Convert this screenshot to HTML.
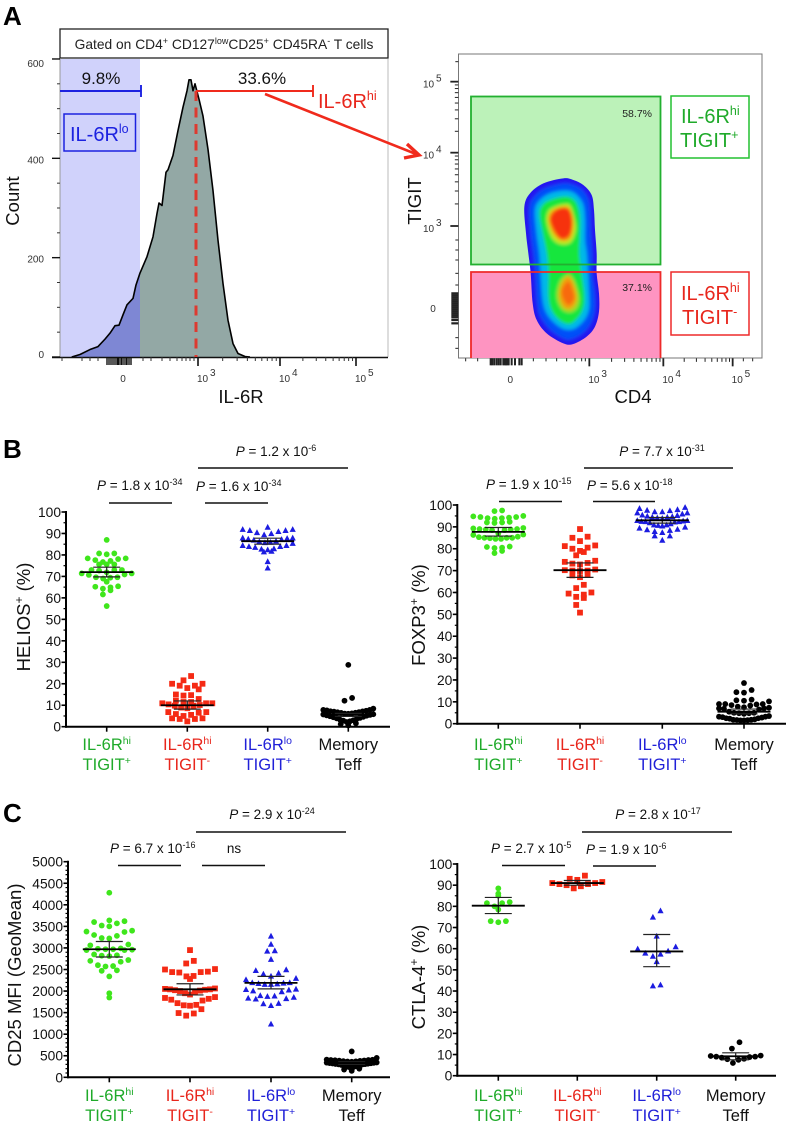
<!DOCTYPE html>
<html lang="en">
<head>
<meta charset="utf-8">
<title>IL-6R and TIGIT flow cytometry figure</title>
<style>
html,body{margin:0;padding:0;background:#fff;}
svg{display:block;font-family:"Liberation Sans",Arial,sans-serif;}
.flowlab{font-size:10px;fill:#333;}
.pv{font-size:13.5px;fill:#111;}
.ttl{font-size:18.5px;fill:#111;}
.letter{font-size:26px;font-weight:bold;fill:#000;}
</style>
</head>
<body>
<svg id="figure" xmlns="http://www.w3.org/2000/svg" width="789" height="1127" viewBox="0 0 789 1127">
<defs>
<clipPath id="clipLo"><rect x="60" y="59" width="80" height="298"/></clipPath>
<clipPath id="clipHi"><rect x="140" y="59" width="248" height="298"/></clipPath>
<filter id="soft" x="-10%" y="-10%" width="120%" height="120%"><feGaussianBlur stdDeviation="1.7"/></filter>
<clipPath id="clipBlob"><path id="clipBlobPath" d=""/></clipPath>
</defs>
<rect width="789" height="1127" fill="#fff"/>

<text class="letter" x="3" y="25">A</text>
<text class="letter" x="3" y="458">B</text>
<text class="letter" x="3" y="822">C</text>

<g id="histogram">
<rect x="60" y="59" width="80" height="298" fill="#d0d2fb"/>
<rect x="60" y="29" width="328" height="29" fill="#fff" stroke="#222" stroke-width="1.3"/>
<text x="224" y="49" text-anchor="middle" font-size="13.8" fill="#222">Gated on CD4<tspan dy="-5" font-size="9">+</tspan><tspan dy="5"> CD127</tspan><tspan dy="-5" font-size="9">low</tspan><tspan dy="5">CD25</tspan><tspan dy="-5" font-size="9">+</tspan><tspan dy="5"> CD45RA</tspan><tspan dy="-5" font-size="9">-</tspan><tspan dy="5"> T cells</tspan></text>
<g id="histMarks"></g>
<line x1="388" y1="59" x2="388" y2="357" stroke="#bbb" stroke-width="1"/>
<line x1="60" y1="59" x2="60" y2="357" stroke="#999" stroke-width="1"/>
<line x1="52" y1="357.5" x2="388" y2="357.5" stroke="#111" stroke-width="1.4"/>
<g id="histTicks"></g>
<line x1="196" y1="91" x2="196" y2="357" stroke="#dd3a30" stroke-width="3" stroke-dasharray="10 6.500"/>
<path d="M60 91H141M141 85V97" fill="none" stroke="#1c22e0" stroke-width="1.9"/>
<path d="M196 91H313M313 85V97" fill="none" stroke="#f02a1c" stroke-width="1.9"/>
<text x="101" y="84" text-anchor="middle" font-size="17" fill="#111">9.8%</text>
<text x="262" y="84" text-anchor="middle" font-size="17" fill="#111">33.6%</text>
<text x="318" y="108" font-size="20" fill="#e8261c">IL-6R<tspan dy="-8" font-size="12.5">hi</tspan></text>
<rect x="64" y="114" width="71.5" height="37" fill="none" stroke="#1c22e0" stroke-width="1.5"/>
<text x="70" y="141" font-size="20" fill="#1c22e0">IL-6R<tspan dy="-8" font-size="12.5">lo</tspan></text>
<text x="19" y="201" class="ttl" text-anchor="middle" transform="rotate(-90 19 201)">Count</text>
<text x="241" y="403" class="ttl" text-anchor="middle">IL-6R</text>
</g>

<g id="arrow">
<line x1="265" y1="94" x2="416" y2="154" stroke="#f02a1c" stroke-width="2.6"/>
<polyline points="407,144 419,155 404,158" fill="none" stroke="#f02a1c" stroke-width="3.4"/>
</g>

<g id="density">
<rect x="458.5" y="54" width="303.5" height="304" fill="#fff" stroke="#777" stroke-width="1"/>
<rect x="471" y="96" width="189.5" height="168" fill="#bcf2b9"/>
<rect x="471" y="272" width="189.5" height="86" fill="#fe94c1"/>
<g id="blob" clip-path="url(#clipBlob)"></g>
<rect x="471" y="96.500" width="189.5" height="168" fill="none" stroke="#22b030" stroke-width="1.8"/>
<path d="M471 358V272H660.500V358" fill="none" stroke="#ee2a2a" stroke-width="1.8"/>
<text x="652" y="117" text-anchor="end" font-size="10.5" fill="#222">58.7%</text>
<text x="652" y="291" text-anchor="end" font-size="10.5" fill="#222">37.1%</text>
<rect x="671" y="96" width="78" height="62" fill="#fff" stroke="#22c030" stroke-width="1.5"/>
<text x="681" y="123" font-size="20" fill="#1faa2a">IL-6R<tspan dy="-8" font-size="12.5">hi</tspan></text>
<text x="680" y="147" font-size="20" fill="#1faa2a">TIGIT<tspan dy="-8" font-size="12.5">+</tspan></text>
<rect x="671" y="272" width="78" height="63" fill="#fff" stroke="#ee2a2a" stroke-width="1.5"/>
<text x="681" y="300" font-size="20" fill="#e8261c">IL-6R<tspan dy="-8" font-size="12.5">hi</tspan></text>
<text x="682" y="324" font-size="20" fill="#e8261c">TIGIT<tspan dy="-8" font-size="12.5">-</tspan></text>
<g id="densityTicks"></g>
<text x="421" y="201" class="ttl" text-anchor="middle" transform="rotate(-90 421 201)">TIGIT</text>
<text x="633" y="403" class="ttl" text-anchor="middle">CD4</text>
</g>

<g id="panelHelios">
<text x="30" y="617" class="ttl" text-anchor="middle" transform="rotate(-90 30 617)">HELIOS<tspan dy="-7" font-size="12">+</tspan><tspan dy="7"> (%)</tspan></text>
<text x="276" y="456" class="pv" text-anchor="middle"><tspan font-style="italic">P</tspan> = 1.2 x 10<tspan dy="-5" font-size="9">-6</tspan></text>
<text x="97" y="490" class="pv"><tspan font-style="italic">P</tspan> = 1.8 x 10<tspan dy="-5" font-size="9">-34</tspan></text>
<text x="196" y="491" class="pv"><tspan font-style="italic">P</tspan> = 1.6 x 10<tspan dy="-5" font-size="9">-34</tspan></text>
<path d="M198 468H348M109 503H172M205 503H268" stroke="#111" stroke-width="1.5" fill="none"/>
</g>

<g id="panelFoxp3">
<text x="425" y="615" class="ttl" text-anchor="middle" transform="rotate(-90 425 615)">FOXP3<tspan dy="-7" font-size="12">+</tspan><tspan dy="7"> (%)</tspan></text>
<text x="662" y="456" class="pv" text-anchor="middle"><tspan font-style="italic">P</tspan> = 7.7 x 10<tspan dy="-5" font-size="9">-31</tspan></text>
<text x="486" y="489" class="pv"><tspan font-style="italic">P</tspan> = 1.9 x 10<tspan dy="-5" font-size="9">-15</tspan></text>
<text x="587" y="490" class="pv"><tspan font-style="italic">P</tspan> = 5.6 x 10<tspan dy="-5" font-size="9">-18</tspan></text>
<path d="M584 468H733M499 501.500H562M593 501.500H655" stroke="#111" stroke-width="1.5" fill="none"/>
</g>

<g id="panelCd25">
<text x="21" y="975" class="ttl" text-anchor="middle" transform="rotate(-90 21 975)">CD25 MFI (GeoMean)</text>
<text x="272" y="819" class="pv" text-anchor="middle"><tspan font-style="italic">P</tspan> = 2.9 x 10<tspan dy="-5" font-size="9">-24</tspan></text>
<text x="110" y="853" class="pv"><tspan font-style="italic">P</tspan> = 6.7 x 10<tspan dy="-5" font-size="9">-16</tspan></text>
<text x="234" y="853" class="pv" text-anchor="middle">ns</text>
<path d="M196 832H346M118 865.500H181M202 865.500H265" stroke="#111" stroke-width="1.5" fill="none"/>
</g>

<g id="panelCtla4">
<text x="425" y="977" class="ttl" text-anchor="middle" transform="rotate(-90 425 977)">CTLA-4<tspan dy="-7" font-size="12">+</tspan><tspan dy="7"> (%)</tspan></text>
<text x="658" y="819" class="pv" text-anchor="middle"><tspan font-style="italic">P</tspan> = 2.8 x 10<tspan dy="-5" font-size="9">-17</tspan></text>
<text x="491" y="853" class="pv"><tspan font-style="italic">P</tspan> = 2.7 x 10<tspan dy="-5" font-size="9">-5</tspan></text>
<text x="586" y="854" class="pv"><tspan font-style="italic">P</tspan> = 1.9 x 10<tspan dy="-5" font-size="9">-6</tspan></text>
<path d="M582 832H732M502 865.500H565M593 866H656" stroke="#111" stroke-width="1.5" fill="none"/>
</g>
</svg>

<script>
/* ---------- Histogram data ---------- */
const histChannels = [11.7,20,30,38,45,50,55,59,63,67,73,76,80,87,93,97,99,102,106,108,113,118,123,127,129,131,133,135,139,143,148,153,158,163,168,173,178,185,190];
const histCounts = [0,5,15,21,36,48,63,64,85,105,118,145,169,202,242,289,310,305,372,377,406,456,503,536,558,558,536,550,519,485,418,335,235,148,74,27,7,1,0];
const histYLabels = [0,200,400,600];
const histYMinor = [50,100,150,250,300,350,450,500,550];
const histXMinor = [2,22,30,38,47,55,83,91,102,110,117,122,126,130,134];
const histXZero = [47,49,51,53,55,57,58,59,61,62,64,66,67,69,71];
const histDecadeChannels = [138,220,296];
const histDecadeLabels = ['3','4','5'];

/* ---------- Density data (plot channels) ---------- */
const contourOuter = [[490,415],[520,420],[550,435],[575,465],[582,510],[585,570],[590,640],[590,700],[597,760],[597,815],[585,860],[560,890],[520,912],[490,910],[440,880],[410,840],[398,790],[392,700],[385,640],[378,580],[373,500],[390,460],[430,430]];
const contourBlue = [[490,430],[520,435],[545,448],[564,475],[570,510],[572,570],[576,640],[576,700],[584,760],[584,812],[572,850],[550,878],[515,897],[490,895],[450,868],[422,830],[412,790],[406,700],[400,640],[392,580],[388,505],[403,470],[435,445]];
const contourCyan = [[490,452],[515,455],[535,470],[550,495],[555,540],[555,600],[560,640],[564,700],[567,760],[567,805],[554,838],[525,865],[495,868],[465,850],[440,820],[428,780],[422,700],[418,640],[410,580],[405,510],[420,480],[450,460]];
const contourGreen = [[490,470],[512,473],[530,490],[540,530],[540,590],[538,640],[544,690],[553,760],[551,800],[537,830],[510,852],[480,842],[455,812],[445,770],[445,700],[440,640],[428,580],[418,520],[430,492],[455,478]];
const contourYellowUpper = [[490,493],[510,496],[522,530],[527,570],[512,607],[480,612],[455,592],[440,545],[446,512],[470,498]];
const contourYellowLower = [[505,703],[522,720],[537,770],[532,802],[510,817],[485,807],[470,770],[480,723]];
const contourOrangeUpper = [[488,500],[510,507],[520,545],[512,592],[485,602],[460,580],[446,540],[456,513]];
const contourOrangeLower = [[505,710],[520,730],[530,770],[522,797],[505,807],[488,797],[478,765],[486,728]];
const contourRedUpper = [[485,505],[507,512],[515,550],[507,585],[485,595],[466,575],[452,540],[462,517]];
const contourRedLower = [[505,725],[517,748],[522,775],[507,795],[491,778],[486,750]];
const densityXDecades = [568,790,998];
const densityYDecades = [558,338,125];
const densityDecadeLabels = ['3','4','5'];
const densityXZeroTicks = [272,277,283,290,296,302,310,314,318,322,326,335,345,358,365];
const densityYZeroTicks = [760,766,772,778,784,790,796,802,808,814,820,826,832,840,850];
const densityXLowTicks = [197,233,400,438,470,500,525,545,556];
const densityYLowTicks = [600,630,660,700,735,893,925];

/* ---------- Dot plot data ---------- */
const categoryLabels = [['IL-6R','hi'],['IL-6R','hi'],['IL-6R','lo'],['Memory','']];
const categorySubLabels = [['TIGIT','+'],['TIGIT','-'],['TIGIT','+'],['Teff','']];

const percentTicks = [0,10,20,30,40,50,60,70,80,90,100];
const mfiTicks = [0,500,1000,1500,2000,2500,3000,3500,4000,4500,5000];

const heliosGreen = [87,80.7,80.3,80.7,78.4,78.1,77.2,76.7,77.6,78.4,75.6,75.6,75.6,71.9,71.4,73,73,73,70.9,71.4,72.7,70.7,69.6,69.4,69,69.6,67.5,64.9,63.5,65.4,64.3,65.2,61.6,56.2];
const heliosRed = [23.6,21.6,20,20,19.1,19.1,18,17.4,15,14.7,14.5,12.9,12.1,11.5,11.5,10.9,10.9,10.9,10.4,10.1,9.8,9.8,8.9,8.6,6.8,6.8,6.5,5.9,5.5,5,3.9,3.9,3.6,3.6,2.5];
const heliosBlue = [93,92,92,91.5,91.5,91,90.5,90,89.5,88,88,87.8,87.5,87.3,87,86.5,86.3,86,85.8,85.5,84.5,84.5,84,84,83.6,83,82.8,82.5,81.8,81.5,77,74];
const heliosBlack = [28.8,13.4,12.1,8.4,7.8,7.8,7.6,7.4,7.2,7.1,7,6.8,6.7,6.5,6.4,6.2,6.1,6,5.8,5.7,5.5,5.3,5.1,4.9,4.6,4.4,4.1,3.9,3.6,3.3,3,2.8,2.5,2.2,1.6,1.2,0.6];
const heliosMeans = [72,10,86.4,5.5];
const heliosLow = [69.8,8.2,85,4.8];
const heliosHigh = [74.3,12,87.8,6.2];

const foxp3Green = [97.5,97.2,95,94.8,94.5,94.5,94.2,94,94,93.7,92.3,92,92,91.8,89.5,89.3,89,89,88.8,88.8,88.5,88.5,87,86.5,86.3,85.5,85.3,85,85,85,84.8,84.5,84.5,81,80.8,80.5,80.3,79,78];
const foxp3Red = [89,85.5,85,83.5,81.5,81.2,80.5,80,79,78.5,77,74.5,74,73.5,73.2,72.8,70.5,70.2,70,70,69.8,68,67.8,67,63.5,62,60,59.5,59,58,57.5,54.3,50.8];
const foxp3Blue = [99,98.5,98,97.7,97.5,97,97,96.5,96.5,96,95.5,95.3,95,94.8,94.5,94.5,94.2,94,93,93,92.8,92.6,92.5,92.5,92.3,92,91.5,91,91,90.8,90.5,90,89.5,89,88.8,88.5,88,87.5,86,86,84];
const foxp3Black = [18.6,15.4,14.4,14.2,11,10.7,10.5,10.2,9,9,9,8.8,8.5,8.3,7.8,7.5,7.3,7,7,6.8,6.5,5.5,5,5,4.8,4.8,4.5,3.5,3.2,3.2,3,2.8,2.5,2.5,2.3,2,1.8,1.8,1.7,1.6,1.5,1.5];
const foxp3Means = [87.7,70.2,93,5.5];
const foxp3Low = [85.8,66.9,91.7,4.5];
const foxp3High = [89.7,73.5,94.3,6.7];

const cd25Green = [4280,3640,3620,3600,3570,3520,3500,3400,3380,3370,3300,3280,3230,3220,3080,3060,2990,2980,2970,2970,2960,2950,2950,2850,2830,2820,2810,2720,2700,2680,2600,2580,2570,2480,2470,2340,1950,1850];
const cd25Red = [2950,2700,2640,2510,2500,2450,2440,2440,2430,2350,2340,2280,2060,2050,2040,2040,2030,2020,2010,2000,1980,1950,1920,1860,1840,1820,1800,1780,1720,1680,1670,1660,1580,1490,1480,1430];
const cd25Blue = [3280,3090,2940,2930,2740,2500,2480,2420,2400,2350,2300,2270,2200,2200,2190,2180,2170,2160,2160,2050,2040,2030,2010,1990,1900,1890,1880,1860,1840,1830,1820,1720,1710,1670,1240];
const cd25Black = [600,450,410,405,400,400,395,390,385,380,375,370,365,360,345,340,335,330,325,320,315,310,305,300,295,285,275,265,255,245,235,225,200,180,150];
const cd25Means = [2970,2040,2190,330];
const cd25Low = [2790,1910,2050,300];
const cd25High = [3150,2170,2340,360];

const ctla4Green = [88.5,86,85,82,81.5,81.5,80,78.5,73,72.5,73];
const ctla4Red = [94.5,93,92.5,91.5,91,91,90.5,90.5,90,89.5,88.5];
const ctla4Blue = [78,75,66,61,60,59,58,57.5,56.5,54,43,42.5];
const ctla4Black = [15.8,12.8,9.5,9.3,9,9,8.8,8.5,8,7.8,7.5,6];
const ctla4Means = [80.3,91,58.7,9.2];
const ctla4Low = [76.6,90,51.5,7.5];
const ctla4High = [84.2,92.2,66.7,10.8];

/* ---------- Helpers ---------- */
const NS = 'http://www.w3.org/2000/svg';
function mk(tag, attrs, parent) {
  const el = document.createElementNS(NS, tag);
  for (const k in attrs) el.setAttribute(k, attrs[k]);
  parent.appendChild(el);
  return el;
}
function polyPath(pts, sx, sy) {
  const p = pts.map(q => [sx(q[0]), sy(q[1])]);
  const n = p.length;
  let d = 'M' + p[0][0] + ' ' + p[0][1];
  for (let i = 0; i < n; i++) {
    const a = p[(i - 1 + n) % n], b = p[i], c = p[(i + 1) % n], e = p[(i + 2) % n];
    d += 'C' + (b[0] + (c[0] - a[0]) / 6) + ' ' + (b[1] + (c[1] - a[1]) / 6) + ' ' +
         (c[0] - (e[0] - b[0]) / 6) + ' ' + (c[1] - (e[1] - b[1]) / 6) + ' ' + c[0] + ' ' + c[1];
  }
  return d + 'Z';
}
function decadeLabel(parent, xBase, yBase, exp, name) {
  const t = mk('text', {x: xBase, y: yBase, 'class': 'flowlab'}, parent);
  
  
  t.textContent = '10';
  const s = mk('text', {x: xBase + 13, y: yBase - 6, 'class': 'flowlab'}, parent);
  
  
  s.textContent = exp;
}

/* ---------- Histogram ---------- */
(function () {
  const marks = document.getElementById('histMarks');
  const ticks = document.getElementById('histTicks');
  const hx = c => 60 + c;
  const hy = v => 357 - v * 0.4967;
  let d = 'M' + hx(histChannels[0]) + ' ' + hy(0);
  histChannels.forEach((c, i) => { d += 'L' + hx(c) + ' ' + hy(histCounts[i]); });
  const dFill = d + 'L' + hx(histChannels[histChannels.length - 1]) + ' ' + hy(0) + 'Z';

  const lo = mk('path', {d: dFill, fill: '#7e87d4', 'clip-path': 'url(#clipLo)'}, marks);
  
  
  const hi = mk('path', {d: dFill, fill: '#93a8a5', 'clip-path': 'url(#clipHi)'}, marks);
  
  
  const line = mk('path', {d: d, fill: 'none', stroke: '#000', 'stroke-width': 1.6, 'stroke-linejoin': 'round'}, marks);
  
  

  histYLabels.forEach(v => {
    const t = mk('line', {x1: 52, x2: 60, y1: hy(v), y2: hy(v), stroke: '#111', 'stroke-width': 1.4}, ticks);
    
    
    const l = mk('text', {x: 44, y: hy(v) + (v === 0 ? 1 : 5) + (v === 600 ? 3 : 0), 'text-anchor': 'end', 'class': 'flowlab'}, ticks);
    
    
    l.textContent = v;
  });
  histYMinor.forEach(v => {
    const t = mk('line', {x1: 57, x2: 60, y1: hy(v), y2: hy(v), stroke: '#333', 'stroke-width': 1}, ticks);
    
    
  });
  histXMinor.forEach(c => {
    const t = mk('line', {x1: hx(c), x2: hx(c), y1: 357, y2: 361, stroke: '#333', 'stroke-width': 1}, ticks);
    
    
  });
  histXZero.forEach(c => {
    const t = mk('line', {x1: hx(c), x2: hx(c), y1: 357, y2: 365, stroke: '#111', 'stroke-width': 1.4}, ticks);
    
    
  });
  histDecadeChannels.forEach((c, i) => {
    const t = mk('line', {x1: hx(c), x2: hx(c), y1: 357, y2: 366, stroke: '#111', 'stroke-width': 1.6}, ticks);
    
    
    if (i < histDecadeChannels.length - 1) {
      [2, 3, 4, 5, 6, 7, 8, 9].forEach(k => {
        const pos = c + Math.log10(k) * (histDecadeChannels[i + 1] - c);
        const m = mk('line', {x1: hx(pos), x2: hx(pos), y1: 357, y2: 361, stroke: '#333', 'stroke-width': 1}, ticks);
        
        
      });
    }
    decadeLabel(ticks, hx(c) - 1, 382, histDecadeLabels[i], 'histogram-x-tick-label');
  });
  const z = mk('text', {x: 123, y: 382, 'text-anchor': 'middle', 'class': 'flowlab'}, ticks);
  
  
  z.textContent = '0';
})();

/* ---------- Density ---------- */
(function () {
  const fx = v => 400 + v / 3;
  const fy = v => 40 + v / 3;
  const blob = document.getElementById('blob');
  const ticks = document.getElementById('densityTicks');
  document.getElementById('clipBlobPath').setAttribute('d', polyPath(contourOuter, fx, fy));

  const soft = mk('g', {filter: 'url(#soft)'}, blob);
  
  

  const bg = mk('path', {d: polyPath(contourOuter, fx, fy), fill: '#2412f0', stroke: '#2412f0', 'stroke-width': 6}, soft);
  
  
  const c1 = mk('path', {d: polyPath(contourBlue, fx, fy), fill: '#0050f8'}, soft);
  
  
  const c2 = mk('path', {d: polyPath(contourCyan, fx, fy), fill: '#00b8e8'}, soft);
  
  
  const c3 = mk('path', {d: polyPath(contourGreen, fx, fy), fill: '#14e63c'}, soft);
  
  
  const y1 = mk('path', {d: polyPath(contourYellowUpper, fx, fy), fill: '#c0e820'}, soft);
  
  
  const y2 = mk('path', {d: polyPath(contourYellowLower, fx, fy), fill: '#a8d820'}, soft);
  
  
  const o1 = mk('path', {d: polyPath(contourOrangeUpper, fx, fy), fill: '#f88a10'}, soft);
  
  
  const o2 = mk('path', {d: polyPath(contourOrangeLower, fx, fy), fill: '#f0a010'}, soft);
  
  
  const r1 = mk('path', {d: polyPath(contourRedUpper, fx, fy), fill: '#f63208'}, soft);
  
  
  const r2 = mk('path', {d: polyPath(contourRedLower, fx, fy), fill: '#f86a10'}, soft);
  
  

  const bottom = fy(955), left = fx(175);
  function xTick(ch, len, w) {
    const t = mk('line', {x1: fx(ch), x2: fx(ch), y1: bottom, y2: bottom + len, stroke: '#222', 'stroke-width': w}, ticks);
    
    
  }
  function yTick(ch, len, w) {
    const t = mk('line', {x1: left - len, x2: left, y1: fy(ch), y2: fy(ch), stroke: '#222', 'stroke-width': w}, ticks);
    
    
  }
  densityXLowTicks.forEach(c => xTick(c, 3, 1));
  densityYLowTicks.forEach(c => yTick(c, 3, 1));
  densityXZeroTicks.forEach(c => xTick(c, 7, 2));
  densityYZeroTicks.forEach(c => yTick(c, 7, 2.2));
  densityXDecades.forEach((c, i) => {
    xTick(c, 8, 1.8);
    if (i < densityXDecades.length - 1) {
      [2, 3, 4, 5, 6, 7, 8, 9].forEach(k => xTick(c + Math.log10(k) * (densityXDecades[i + 1] - c), 3.5, 1));
    }
    decadeLabel(ticks, fx(c) - 1, 383, densityDecadeLabels[i], 'density-x-tick-label');
  });
  xTick(1030, 3, 1); xTick(1058, 3, 1);
  densityYDecades.forEach((c, i) => {
    yTick(c, 8, 1.8);
    if (i < densityYDecades.length - 1) {
      [2, 3, 4, 5, 6, 7, 8, 9].forEach(k => yTick(c + Math.log10(k) * (densityYDecades[i + 1] - c), 3.5, 1));
    }
    decadeLabel(ticks, 423, fy(c) + 6, densityDecadeLabels[i], 'density-y-tick-label');
  });
  yTick(65, 3, 1);
  const zx = mk('text', {x: fx(331), y: 383, 'text-anchor': 'middle', 'class': 'flowlab'}, ticks);
  
  
  zx.textContent = '0';
  const zy = mk('text', {x: 433, y: 312, 'text-anchor': 'middle', 'class': 'flowlab'}, ticks);
  
  
  zy.textContent = '0';
})();

/* ---------- Dot plots ---------- */
function swarmOffsets(values, bin) {
  // Prism-style swarm: within each bin the lowest values sit in the centre, higher ones outward.
  const rows = {};
  values.forEach((v, i) => {
    const key = Math.round(v / bin);
    (rows[key] = rows[key] || []).push(i);
  });
  const out = new Array(values.length);
  Object.keys(rows).forEach(key => {
    const row = rows[key].slice().sort((a, b) => values[a] - values[b]);
    const n = row.length;
    const step = n > 1 ? Math.min(7.6, 50 / (n - 1)) : 0;
    row.forEach((idx, k) => {
      let slot;
      if (n % 2 === 1) {
        slot = k === 0 ? 0 : (k % 2 === 1 ? -(k + 1) / 2 : k / 2);
      } else {
        slot = k % 2 === 0 ? -(k + 1) / 2 : (k + 0) / 2;
      }
      out[idx] = slot * step;
    });
  });
  return out;
}
const seriesColors = ['#3fe61c', '#f52a14', '#1c1ce0', '#000000'];
const seriesText = ['#1faa2a', '#e8261c', '#2020d8', '#111111'];
const seriesNames = ['il6r-hi-tigit-pos', 'il6r-hi-tigit-neg', 'il6r-lo-tigit-pos', 'memory-teff'];

function drawDotPlot(groupId, name, geo, ticksList, minorStep, series, bins, means, lows, highs) {
  const g = document.getElementById(groupId);
  const yMax = ticksList[ticksList.length - 1];
  const y = v => geo.y0 - v / yMax * (geo.y0 - geo.y1);

  const ya = mk('line', {x1: geo.ax, x2: geo.ax, y1: y(yMax) - 1, y2: geo.y0 + 1, stroke: '#000', 'stroke-width': 2}, g);
  
  
  const xa = mk('line', {x1: geo.ax - 1, x2: geo.xEnd, y1: geo.y0, y2: geo.y0, stroke: '#000', 'stroke-width': 2}, g);
  
  

  for (let v = 0; v <= yMax + 1e-6; v += minorStep) {
    const t = mk('line', {x1: geo.ax - 2.5, x2: geo.ax, y1: y(v), y2: y(v), stroke: '#000', 'stroke-width': 1.2}, g);
    
    
  }
  ticksList.forEach(v => {
    const t = mk('line', {x1: geo.ax - 4.5, x2: geo.ax, y1: y(v), y2: y(v), stroke: '#000', 'stroke-width': 1.6}, g);
    
    
    const l = mk('text', {x: geo.ax - 5, y: y(v) + 5, 'text-anchor': 'end', 'font-size': 13.8, fill: '#111'}, g);
    
    
    l.textContent = v;
  });

  geo.cats.forEach((cx, i) => {
    const t = mk('line', {x1: cx, x2: cx, y1: geo.y0, y2: geo.y0 + 5, stroke: '#000', 'stroke-width': 1.6}, g);
    
    

    const lab1 = mk('text', {x: cx, y: geo.labY, 'text-anchor': 'middle', 'font-size': 16.5, fill: seriesText[i]}, g);
    
    
    const s1 = mk('tspan', {}, lab1);
    s1.textContent = categoryLabels[i][0];
    if (categoryLabels[i][1]) {
      const sup1 = mk('tspan', {dy: -6, 'font-size': 10.5}, lab1);
      sup1.textContent = categoryLabels[i][1];
    }
    const lab2 = mk('text', {x: cx, y: geo.labY + 20, 'text-anchor': 'middle', 'font-size': 16.5, fill: seriesText[i]}, g);
    
    
    const s2 = mk('tspan', {}, lab2);
    s2.textContent = categorySubLabels[i][0];
    if (categorySubLabels[i][1]) {
      const sup2 = mk('tspan', {dy: -6, 'font-size': 10.5}, lab2);
      sup2.textContent = categorySubLabels[i][1];
    }

    const offs = swarmOffsets(series[i], bins[i]);
    series[i].forEach((v, j) => {
      const px = cx + offs[j], py = y(v);
      let m;
      if (i === 1) {
        m = mk('rect', {x: px - 2.9, y: py - 2.9, width: 5.8, height: 5.8, fill: seriesColors[i]}, g);
      } else if (i === 2) {
        m = mk('polygon', {points: (px - 3.1) + ',' + (py + 2.7) + ' ' + (px + 3.1) + ',' + (py + 2.7) + ' ' + px + ',' + (py - 3.1), fill: seriesColors[i]}, g);
      } else {
        m = mk('circle', {cx: px, cy: py, r: 2.9, fill: seriesColors[i]}, g);
      }
      
      
    });

    const ci = mk('path', {d: 'M' + (cx - 13.5) + ' ' + y(highs[i]) + 'H' + (cx + 13.5) + 'M' + (cx - 13.5) + ' ' + y(lows[i]) + 'H' + (cx + 13.5) + 'M' + cx + ' ' + y(highs[i]) + 'V' + y(lows[i]), fill: 'none', stroke: '#222', 'stroke-width': 1.2}, g);
    
    
    const meanLine = mk('line', {x1: cx - 26.5, x2: cx + 26.5, y1: y(means[i]), y2: y(means[i]), stroke: '#000', 'stroke-width': 1.8}, g);
    
    
  });
}

drawDotPlot('panelHelios', 'helios',
  {ax: 66, xEnd: 390, y0: 726.7, y1: 512, cats: [106.7, 187.3, 267.7, 348.3], labY: 750},
  percentTicks, 5, [heliosGreen, heliosRed, heliosBlue, heliosBlack], [2.6, 3.2, 3.5, 4],
  heliosMeans, heliosLow, heliosHigh);
drawDotPlot('panelFoxp3', 'foxp3',
  {ax: 457.3, xEnd: 786, y0: 723.7, y1: 505, cats: [498.3, 580, 662.3, 744], labY: 750},
  percentTicks, 5, [foxp3Green, foxp3Red, foxp3Blue, foxp3Black], [3.4, 3.5, 3.4, 3],
  foxp3Means, foxp3Low, foxp3High);
drawDotPlot('panelCd25', 'cd25',
  {ax: 68, xEnd: 390, y0: 1077.3, y1: 861.7, cats: [109.3, 190, 271, 351.7], labY: 1101},
  mfiTicks, 100, [cd25Green, cd25Red, cd25Blue, cd25Black], [220, 220, 220, 140],
  cd25Means, cd25Low, cd25High);
drawDotPlot('panelCtla4', 'ctla4',
  {ax: 457.3, xEnd: 776, y0: 1075.7, y1: 864, cats: [498.3, 577.3, 656.7, 735.7], labY: 1101},
  percentTicks, 5, [ctla4Green, ctla4Red, ctla4Blue, ctla4Black], [3, 8, 10, 8],
  ctla4Means, ctla4Low, ctla4High);
</script>
</body>
</html>
